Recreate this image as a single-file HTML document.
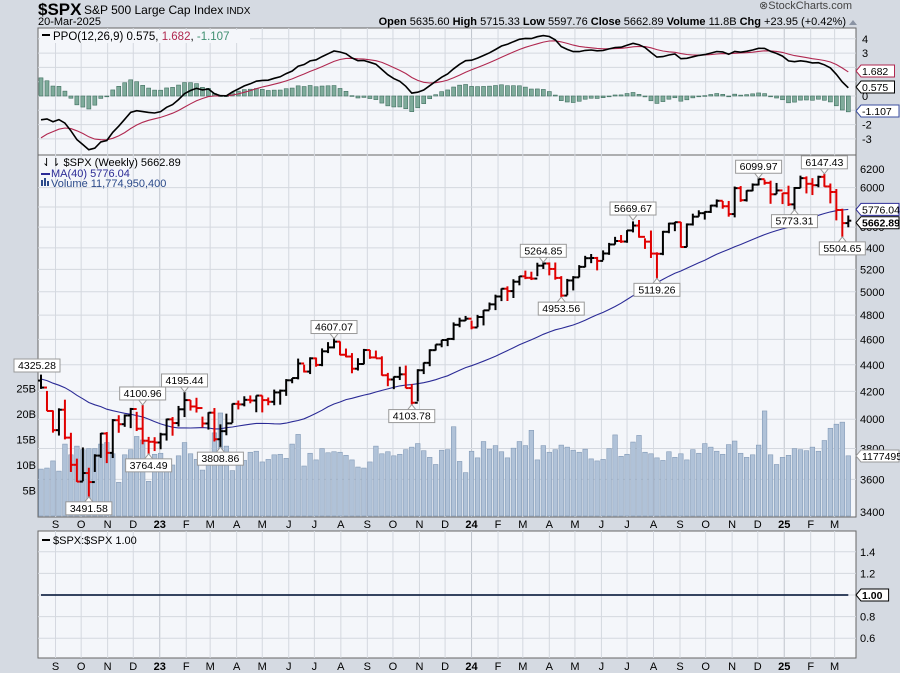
<!DOCTYPE html>
<html><head><meta charset="utf-8"><style>
html,body{margin:0;padding:0;background:#d5dae2;}
svg{display:block;font-family:"Liberation Sans",sans-serif;}
</style></head><body>
<svg id="c" width="900" height="673" viewBox="0 0 900 673">
<rect x="0" y="0" width="900" height="673" fill="#d5dae2"/>
<text x="38" y="15" font-size="17" font-weight="bold" fill="#000">$SPX</text>
<text x="84" y="14" font-size="12" fill="#000">S&amp;P 500 Large Cap Index <tspan font-size="10">INDX</tspan></text>
<text x="38" y="25" font-size="11" fill="#000">20-Mar-2025</text>
<text x="852" y="9" font-size="11" fill="#444" text-anchor="end">⊗StockCharts.com</text>
<text x="846" y="25" font-size="11" fill="#000" text-anchor="end"><tspan font-weight="bold">Open</tspan> 5635.60 <tspan font-weight="bold">High</tspan> 5715.33 <tspan font-weight="bold">Low</tspan> 5597.76 <tspan font-weight="bold">Close</tspan> 5662.89 <tspan font-weight="bold">Volume</tspan> 11.8B <tspan font-weight="bold">Chg</tspan> +23.95 (+0.42%)</text>
<path d="M849 25 L853 20 L857 25 Z" fill="#8a93a3"/>
<g id="g"></g>
</svg>
<script>
var priorCloses=[4698,4595,4538,4712,4669,4621,4725,4766,4677,4663,4398,4432,4500,4418,4349,4385,4328,4329,4204,4464,4543,4546,4488,4392,4272,4131,4123,4024,3901,4158,4108,3901,3675,3912,3825,3899,3863,3961,4130,4145,4280];
var closes=[4228,4058,3924,4067,3873,3693,3586,3640,3583,3753,3901,3771,3993,3965,4026,4072,3934,3852,3845,3840,
3895,3999,3973,4070,4136,4090,4079,3970,4046,3862,3917,3971,4109,4105,4138,4133,4169,4136,4124,4192,
4205,4282,4299,4410,4348,4450,4399,4505,4536,4582,4478,4464,4370,4406,4515,4457,4450,4320,4288,4308,
4327,4224,4117,4358,4415,4514,4559,4595,4604,4719,4754,4770,
4697,4784,4840,4891,4959,5027,5006,5089,5137,5124,5117,5234,5254,5204,5123,4967,5100,5128,5223,5303,
5305,5278,5347,5432,5465,5460,5567,5615,5505,5459,5346,5344,5554,5635,5648,5408,5626,5703,5738,5751,
5815,5864,5808,5729,5995,5870,5969,6032,6090,6051,5931,5971,5942,5827,5997,6101,6041,6026,6115,6013,
5955,5770,5639,5663];
var highs=[4325,4203,4062,4077,4139,3906,3733,3807,3674,3762,3905,3911,4001,4028,4034,4080,4052,4101,3878,3876,
3906,4004,4015,4094,4195,4136,4153,4018,4049,4079,3964,4039,4111,4133,4164,4170,4170,4170,4155,4213,
4213,4291,4299,4448,4401,4458,4456,4528,4578,4607,4584,4527,4491,4451,4524,4516,4511,4466,4338,4311,
4385,4394,4255,4366,4418,4521,4560,4596,4610,4739,4778,4793,
4754,4802,4842,4907,4975,5030,5048,5111,5140,5189,5179,5261,5265,5264,5263,5139,5114,5139,5239,5325,
5342,5315,5376,5447,5505,5523,5570,5656,5670,5491,5566,5358,5563,5643,5651,5651,5636,5733,5767,5757,
5823,5878,5862,5862,6012,6017,5973,6045,6100,6085,6074,6050,5945,6021,6007,6128,6120,6101,6127,6147,
6044,5986,5783,5715];
var lows=[4218,4057,3907,3887,3861,3647,3584,3588,3492,3647,3738,3704,3737,3906,3947,3938,3918,3828,3764,3783,
3795,3853,3886,3949,4015,4061,4047,3943,3928,3847,3809,3889,3974,4069,4091,4113,4049,4048,4099,4099,
4103,4167,4260,4289,4341,4329,4385,4389,4491,4528,4474,4458,4335,4356,4404,4446,4449,4317,4238,4216,
4284,4223,4104,4127,4329,4389,4511,4537,4546,4594,4699,4751,
4682,4699,4714,4845,4842,4919,4920,4946,5057,5112,5104,5138,5204,5146,5107,4954,4969,5012,5128,5219,
5257,5191,5284,5334,5431,5447,5448,5548,5497,5390,5305,5119,5331,5540,5560,5402,5407,5615,5703,5674,
5740,5796,5783,5703,5696,5853,5856,5963,6024,6031,5833,5932,5830,5811,5773,5995,5940,5923,6004,6009,
5837,5666,5505,5598];
var volumes=[9.2,9.4,10.8,8.8,14.1,12.0,13.7,13.0,13.2,13.2,14.1,14.4,12.2,6.6,12.0,13.0,15.6,14.9,6.8,12.1,
12.3,11.0,10.0,11.8,14.4,12.2,11.1,9.0,11.3,16.3,20.2,13.7,8.9,10.3,10.9,12.5,12.7,10.6,11.1,12.0,
12.1,11.3,14.1,16.0,9.8,12.3,11.0,13.2,12.4,12.6,12.5,11.9,11.0,9.6,9.4,10.6,13.7,12.2,12.6,11.8,
12.1,13.0,13.5,14.2,12.8,11.5,10.1,12.9,13.0,17.5,10.7,8.5,
12.7,11.4,14.6,13.1,13.8,12.6,11.4,13.3,14.6,13.8,16.8,11.0,13.8,12.5,13.0,13.9,13.5,12.9,12.5,13.1,11.2,10.8,11.1,13.2,15.9,11.7,12.1,14.5,
15.8,12.5,12.2,11.4,10.9,12.6,11.5,12.2,11.0,13.0,12.3,14.2,13.5,12.7,12.1,14.0,14.7,12.3,11.5,12.0,13.9,20.6,12.0,10.1,
11.5,11.9,13.2,13.0,12.8,13.5,12.7,14.8,17.2,18.0,18.4,11.8];
var annHigh=[17,24,49,84,99,120,131];
var annHighVals=[4100.96,4195.44,4607.07,5264.85,5669.67,6099.97,6147.43];
var annLow=[8,18,30,62,87,103,126,134];
var annLowVals=[3491.58,3764.49,3808.86,4103.78,4953.56,5119.26,5773.31,5504.65];
var priceTicks=[6200,6000,5800,5600,5400,5200,5000,4800,4600,4400,4200,4000,3800,3600,3400];
var volTicks=[5,10,15,20,25];
var ppoTicks=[4,3,2,1,0,-1,-2,-3];
var ratioTicks=[1.4,1.2,0.8,0.6];
var ratioValues=closes.map(function(){return 1.0;});
var monthLabels=["S","O","N","D","23","F","M","A","M","J","J","A","S","O","N","D","24","F","M","A","M","J","J","A","S","O","N","D","25","F","M"];

var NS="http://www.w3.org/2000/svg";
var G=document.getElementById('g');
function el(t,a,p){var e=document.createElementNS(NS,t);for(var k in a)e.setAttribute(k,a[k]);(p||G).appendChild(e);return e;}
var L=38,R=856,DX=5.98,X0=41;
function x(i){return X0+i*DX;}
function yP(p){return 512-571*Math.log(p/3400);}
function yV(v){return 516-5.1*v;}
function yO(v){return 96-14.3*v;}
function yR(v){return 595-108*(v-1);}
var BG="#f4f6fa",GRID="#d4d8df",FR="#666";

var pp=el('rect',{x:L,y:28,width:R-L,height:127,fill:BG,stroke:FR});


var mp=el('rect',{x:L,y:155,width:R-L,height:362,fill:BG,stroke:FR});


var rp=el('rect',{x:L,y:531,width:R-L,height:127,fill:BG,stroke:FR});



var d0=new Date(2022,7,15).getTime();
var mi=0;
for(var y=2022;y<=2025;y++){for(var m=0;m<12;m++){
  var dt=new Date(y,m,1).getTime();
  if(dt<new Date(2022,8,1).getTime()||dt>new Date(2025,2,1).getTime())continue;
  var xx=X0+(dt-d0)/864e5/7*DX;
  var lab=monthLabels[mi++];
  var yr=(m===0);
  [[28,155],[155,517],[531,658]].forEach(function(r){el('line',{x1:xx,x2:xx,y1:r[0],y2:r[1],stroke:yr?"#bfc4cc":GRID,'stroke-width':1});});
  [528,670].forEach(function(ty){
    var t=el('text',{x:xx,y:ty,'font-size':11,'text-anchor':'middle',fill:'#000','font-weight':yr?'bold':'normal'});
    t.textContent=lab;
    
    
  });
}}

priceTicks.forEach(function(p){
  var yy=yP(p);
  if(p<6200&&p>3400)el('line',{x1:L,x2:R,y1:yy,y2:yy,stroke:GRID});
  var t=el('text',{x:860,y:yy+4,'font-size':11,fill:'#000'});
  t.textContent=p;
  
  
});
volTicks.forEach(function(v){
  var t=el('text',{x:36,y:yV(v)+4,'font-size':11,fill:'#000','text-anchor':'end'});
  t.textContent=v+"B";
  
  
});
ppoTicks.forEach(function(v){
  var yy=yO(v);
  el('line',{x1:L,x2:R,y1:yy,y2:yy,stroke:GRID});
  if(v===2||v===1||v===-1)return;
  var t=el('text',{x:862,y:yy+4,'font-size':11,fill:'#000'});
  t.textContent=v;
  
  
});
ratioTicks.concat([1.0]).forEach(function(v){
  var yy=yR(v);
  el('line',{x1:L,x2:R,y1:yy,y2:yy,stroke:GRID});
  if(v===1.0)return;
  var t=el('text',{x:860,y:yy+4,'font-size':11,fill:'#000'});
  t.textContent=v.toFixed(1);
  
  
});

volumes.forEach(function(v,i){
  var b=el('rect',{x:x(i)-2.3,y:yV(v),width:4.6,height:516-yV(v),fill:"#b0c2d8",stroke:"#8299b6",'stroke-width':0.6});
  
  
});

var all=priorCloses.concat(closes),off=priorCloses.length;
var ma=[];for(var i=0;i<closes.length;i++){var s=0;for(var k=0;k<40;k++)s+=all[off+i-k];ma.push(s/40);}
function ema(arr,n){var a=2/(n+1),out=[],e=arr[0];arr.forEach(function(v){e=e+a*(v-e);out.push(e);});return out;}
var e12=ema(all,12),e26=ema(all,26),ppoAll=e12.map(function(v,i){return (v-e26[i])/e26[i]*100;});
var sigAll=ema(ppoAll,9);
var ppo=ppoAll.slice(off),sig=sigAll.slice(off);

ppo.forEach(function(v,i){
  var h=v-sig[i];var y1=yO(Math.max(h,0)),y2=yO(Math.min(h,0));
  var b=el('rect',{x:x(i)-2,y:y1,width:4,height:Math.max(y2-y1,0.8),fill:"#7fab9b",stroke:"#3f6f5f",'stroke-width':0.6});
  
  
});
function pl(arr,fy,col,w,name){
  var d=arr.map(function(v,i){return (i?'L':'M')+x(i).toFixed(1)+' '+fy(v).toFixed(1);}).join(' ');
  var p=el('path',{d:d,fill:'none',stroke:col,'stroke-width':w});
  
  
}
pl(sig,yO,"#b02850",1.1,'ppo-signal-line');
pl(ppo,yO,"#000",1.6,'ppo-line');
pl(ma,yP,"#2b2b96",1.1,'ma40-line');

closes.forEach(function(c,i){
  var o=i?closes[i-1]:4280;var col=(i&&c<closes[i-1])?"#e00000":"#000";
  var g=el('g',{stroke:col,'stroke-width':2});
  
  
  var xx=x(i);
  el('line',{x1:xx,x2:xx,y1:yP(highs[i]),y2:yP(lows[i])},g);
  el('line',{x1:xx-3,x2:xx,y1:yP(o),y2:yP(o)},g);
  el('line',{x1:xx,x2:xx+3,y1:yP(c),y2:yP(c)},g);
});

pl(ratioValues,yR,"#1a2a4a",1.8,'ratio-line');

function ann(i,val,above,name){
  var xx=x(i),yy=yP(val),txt=val.toFixed(2),w=txt.length*6+4,h=13;
  var ty=above?yy-5-h:yy+5;
  var g=el('g',{});
  
  
  el('path',{d:above?('M'+(xx-4)+' '+(yy-5)+' L'+xx+' '+yy+' L'+(xx+4)+' '+(yy-5)):('M'+(xx-4)+' '+(yy+5)+' L'+xx+' '+yy+' L'+(xx+4)+' '+(yy+5)),fill:'#fff',stroke:'#999'},g);
  el('rect',{x:xx-w/2,y:ty,width:w,height:h,fill:'#fff',stroke:'#999'},g);
  var t=el('text',{x:xx,y:ty+10,'font-size':10.5,'text-anchor':'middle',fill:'#000'},g);
  t.textContent=txt;
}
annHigh.forEach(function(i,k){ann(i,annHighVals[k],true,'high-annotation');});
annLow.forEach(function(i,k){ann(i,annLowVals[k],false,'low-annotation');});
(function(){var g=el('g',{});
el('rect',{x:14,y:359,width:46,height:13,fill:'#fff',stroke:'#999'},g);
var t=el('text',{x:37,y:369,'font-size':10.5,'text-anchor':'middle'},g);t.textContent='4325.28';})();

function tag(yy,txt,col,bold,name,bcol){
  var g=el('g',{});
  
  
  var w=Math.min(txt.length*5.9+4,38);
  el('path',{d:'M856 '+yy+' L861 '+(yy-6)+' L'+(861+w)+' '+(yy-6)+' L'+(861+w)+' '+(yy+6)+' L861 '+(yy+6)+' Z',fill:'#fff',stroke:bcol||col},g);
  var t=el('text',{x:862,y:yy+4,'font-size':10.5,fill:col,'font-weight':bold?'bold':'normal'},g);
  t.textContent=txt;
}
tag(71,'1.682','#000',false,'ppo-signal-tag','#b02850');
tag(87,'0.575','#000',false,'ppo-value-tag','#000');
tag(111,'-1.107','#000',false,'ppo-histogram-tag','#3b4fa0');
tag(yP(5776.04),'5776.04','#000',false,'ma-value-tag','#2b2b96');
tag(yP(5662.89)+2,'5662.89','#000',true,'close-value-tag','#000');
tag(yV(11.77),'1177495','#000',false,'volume-value-tag','#999');
tag(yR(1.0),'1.00','#000',true,'ratio-value-tag','#000');

function lg(xx,yy,txt,col,name){
  var t=el('text',{x:xx,y:yy,'font-size':11,fill:col});
  t.textContent=txt;
  
  
}
el('rect',{x:40,y:30,width:210,height:13,fill:'#f4f6fa'});
el('line',{x1:42,x2:50,y1:35,y2:35,stroke:'#000','stroke-width':2});
var pt=el('text',{x:53,y:40,'font-size':11.5,fill:'#000'});


pt.innerHTML='PPO(12,26,9) 0.575, <tspan fill="#b02850">1.682</tspan>, <tspan fill="#3f8f70">-1.107</tspan>';
lg(42,166,'⇃⇂ $SPX (Weekly) 5662.89','#000','price-legend');
el('line',{x1:41,x2:50,y1:174,y2:174,stroke:'#2b2b96','stroke-width':2});
lg(51,177,'MA(40) 5776.04','#2b2b96','ma-legend');
el('rect',{x:41,y:180,width:2,height:6,fill:'#2b4a8a'});el('rect',{x:44,y:178,width:2,height:8,fill:'#2b4a8a'});el('rect',{x:47,y:181,width:2,height:5,fill:'#2b4a8a'});
lg(51,187,'Volume 11,774,950,400','#2b4a8a','volume-legend');
el('line',{x1:42,x2:50,y1:540,y2:540,stroke:'#000','stroke-width':2});
lg(53,544,'$SPX:$SPX 1.00','#000','ratio-legend');
</script>
</body></html>
